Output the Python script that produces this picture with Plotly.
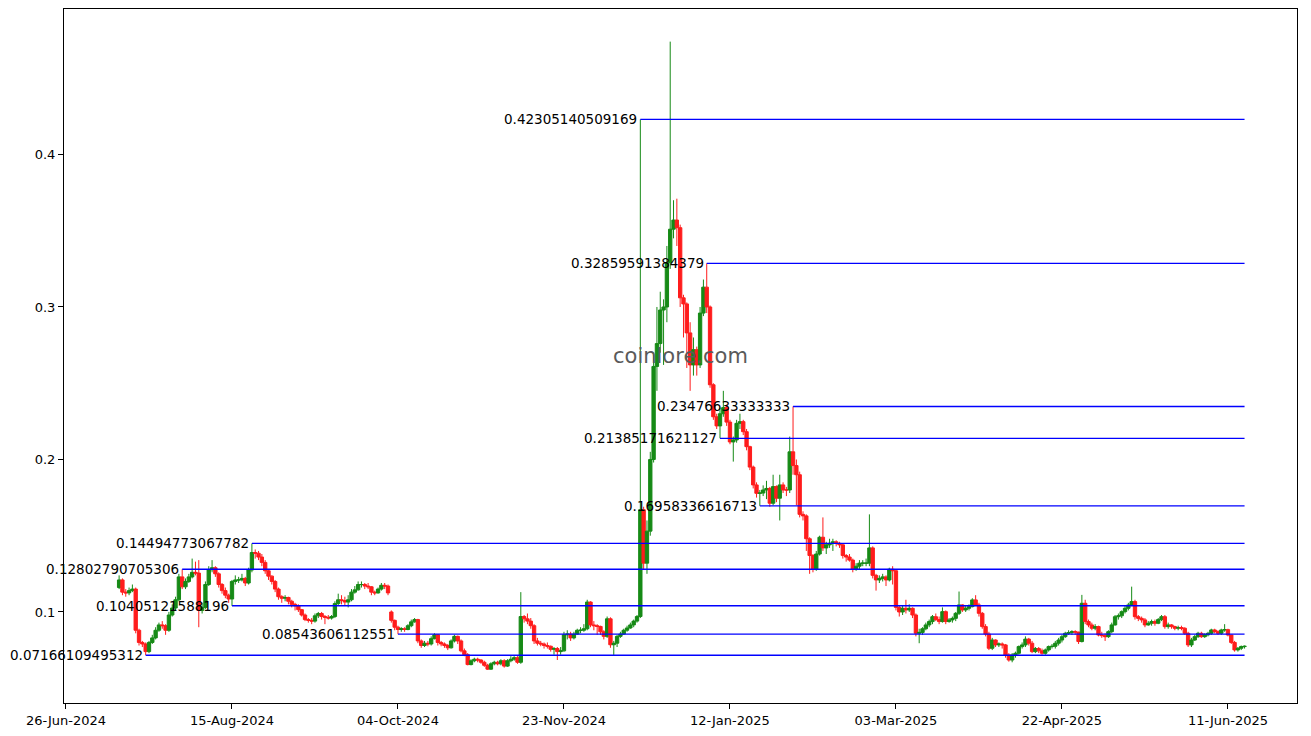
import pandas as pd
import plotly.graph_objects as go

# ---------------- data ----------------
start_date = "2024-07-12"
first_open = 0.116
gap_opens = {82: 0.100}

close = [
    0.121, 0.113, 0.1125, 0.114, 0.115, 0.088, 0.080, 0.079, 0.074, 0.080,
    0.083, 0.088, 0.0915, 0.091, 0.088, 0.098, 0.1026, 0.108, 0.123, 0.1165,
    0.120, 0.123, 0.126, 0.1255, 0.101, 0.103, 0.118, 0.1277, 0.129, 0.125,
    0.118, 0.114, 0.111, 0.1085, 0.120, 0.121, 0.121, 0.122, 0.119, 0.1275,
    0.139, 0.1385, 0.136, 0.1325, 0.127, 0.1235, 0.120, 0.115, 0.110, 0.109,
    0.1095, 0.107, 0.105, 0.104, 0.1015, 0.098, 0.095, 0.0945, 0.094, 0.0975,
    0.099, 0.097, 0.0965, 0.096, 0.097, 0.1055, 0.108, 0.1075, 0.1065, 0.108,
    0.113, 0.1145, 0.118, 0.118, 0.117, 0.1165, 0.113, 0.1125, 0.115, 0.1175,
    0.117, 0.1125, 0.0945, 0.090, 0.0885, 0.089, 0.0885, 0.091, 0.0935, 0.095,
    0.081, 0.078, 0.0795, 0.079, 0.0825, 0.085, 0.080, 0.079, 0.078, 0.0765,
    0.081, 0.084, 0.081, 0.0745, 0.072, 0.0655, 0.068, 0.069, 0.0685, 0.067,
    0.065, 0.0625, 0.066, 0.067, 0.066, 0.068, 0.0645, 0.068, 0.069, 0.070,
    0.067, 0.097, 0.0955, 0.094, 0.091, 0.081, 0.0795, 0.079, 0.078, 0.0775,
    0.0755, 0.076, 0.074, 0.0745, 0.085, 0.0855, 0.083, 0.0855, 0.088, 0.088,
    0.089, 0.1065, 0.0915, 0.091, 0.0905, 0.087, 0.084, 0.0955, 0.0785, 0.0795,
    0.084, 0.0855, 0.088, 0.0895, 0.0915, 0.094, 0.097, 0.167, 0.132, 0.153,
    0.200, 0.261, 0.276, 0.298, 0.300, 0.329, 0.351, 0.357, 0.352, 0.306,
    0.302, 0.283, 0.262, 0.272, 0.262, 0.296, 0.313, 0.300, 0.249, 0.228,
    0.222, 0.230, 0.234, 0.2245, 0.2115, 0.2128, 0.2237, 0.2248, 0.2182, 0.2084,
    0.195, 0.1833, 0.1778, 0.178, 0.180, 0.181, 0.1713, 0.1822, 0.1746, 0.1833,
    0.180, 0.180, 0.205, 0.196, 0.190, 0.164, 0.163, 0.148, 0.137, 0.128,
    0.138, 0.149, 0.142, 0.144, 0.145, 0.146, 0.145, 0.144, 0.137, 0.136,
    0.134, 0.128, 0.130, 0.132, 0.132, 0.132, 0.142, 0.124, 0.121, 0.122,
    0.123, 0.121, 0.128, 0.127, 0.103, 0.100, 0.1024, 0.1013, 0.1024, 0.098,
    0.086, 0.0866, 0.089, 0.0915, 0.0937, 0.0969, 0.095, 0.0937, 0.1002, 0.0937,
    0.0948, 0.0958, 0.0991, 0.1046, 0.1013, 0.1024, 0.1035, 0.1079, 0.1046, 0.0991,
    0.0904, 0.0855, 0.0762, 0.0816, 0.0784, 0.079, 0.0784, 0.0718, 0.0685, 0.0718,
    0.0729, 0.0773, 0.0784, 0.0822, 0.0795, 0.074, 0.076, 0.0745, 0.0729, 0.0751,
    0.0773, 0.0775, 0.0795, 0.0816, 0.0838, 0.086, 0.0865, 0.0871, 0.0868, 0.0806,
    0.1057, 0.0937, 0.0915, 0.0893, 0.0904, 0.0849, 0.0845, 0.0838, 0.0871, 0.0915,
    0.0969, 0.0975, 0.1002, 0.1024, 0.1046, 0.1068, 0.0969, 0.0958, 0.0948, 0.0915,
    0.0926, 0.0937, 0.0926, 0.095, 0.0969, 0.0904, 0.0915, 0.0904, 0.0893, 0.0898,
    0.0893, 0.086, 0.0784, 0.0816, 0.0838, 0.086, 0.0838, 0.085, 0.086, 0.0882,
    0.0871, 0.086, 0.0882, 0.0884, 0.0849, 0.080, 0.0751, 0.0762, 0.0773, 0.0775,
]

high = [
    0.124, 0.122, 0.115, 0.116, 0.118, 0.116, 0.089, 0.081, 0.080, 0.081,
    0.085, 0.090, 0.093, 0.094, 0.092, 0.100, 0.105, 0.110, 0.125, 0.128,
    0.122, 0.125, 0.135, 0.133, 0.134, 0.106, 0.120, 0.130, 0.134, 0.130,
    0.126, 0.119, 0.116, 0.112, 0.121, 0.124, 0.123, 0.125, 0.123, 0.129,
    0.1449, 0.141, 0.140, 0.138, 0.134, 0.128, 0.124, 0.121, 0.116, 0.111,
    0.111, 0.110, 0.108, 0.106, 0.105, 0.102, 0.099, 0.096, 0.096, 0.099,
    0.100, 0.100, 0.098, 0.098, 0.098, 0.107, 0.112, 0.111, 0.110, 0.111,
    0.115, 0.117, 0.120, 0.120, 0.119, 0.119, 0.117, 0.114, 0.116, 0.119,
    0.119, 0.118, 0.101, 0.095, 0.091, 0.090, 0.090, 0.092, 0.095, 0.096,
    0.0955, 0.082, 0.081, 0.081, 0.084, 0.086, 0.0855, 0.081, 0.080, 0.079,
    0.082, 0.085, 0.0845, 0.082, 0.076, 0.073, 0.069, 0.070, 0.070, 0.069,
    0.068, 0.066, 0.067, 0.068, 0.068, 0.069, 0.069, 0.069, 0.071, 0.071,
    0.071, 0.113, 0.098, 0.099, 0.096, 0.092, 0.083, 0.081, 0.080, 0.080,
    0.078, 0.077, 0.077, 0.077, 0.087, 0.088, 0.087, 0.087, 0.089, 0.090,
    0.092, 0.108, 0.107, 0.094, 0.092, 0.091, 0.088, 0.097, 0.0965, 0.081,
    0.085, 0.087, 0.089, 0.091, 0.093, 0.095, 0.098, 0.423, 0.169, 0.160,
    0.205, 0.270, 0.300, 0.310, 0.305, 0.340, 0.474, 0.370, 0.371, 0.354,
    0.308, 0.303, 0.290, 0.280, 0.274, 0.300, 0.318, 0.3286, 0.301, 0.250,
    0.230, 0.234, 0.245, 0.236, 0.226, 0.215, 0.226, 0.230, 0.226, 0.220,
    0.209, 0.196, 0.185, 0.180, 0.183, 0.186, 0.182, 0.190, 0.183, 0.190,
    0.185, 0.182, 0.215, 0.2348, 0.200, 0.192, 0.166, 0.164, 0.149, 0.138,
    0.140, 0.150, 0.162, 0.146, 0.148, 0.148, 0.147, 0.146, 0.145, 0.138,
    0.138, 0.135, 0.132, 0.134, 0.134, 0.135, 0.164, 0.143, 0.125, 0.124,
    0.125, 0.124, 0.129, 0.130, 0.128, 0.104, 0.104, 0.108, 0.105, 0.103,
    0.099, 0.089, 0.090, 0.093, 0.095, 0.098, 0.099, 0.097, 0.103, 0.101,
    0.096, 0.097, 0.100, 0.1134, 0.105, 0.104, 0.105, 0.109, 0.111, 0.106,
    0.100, 0.092, 0.087, 0.083, 0.082, 0.080, 0.080, 0.079, 0.073, 0.073,
    0.074, 0.078, 0.080, 0.084, 0.083, 0.081, 0.077, 0.077, 0.076, 0.076,
    0.078, 0.079, 0.081, 0.083, 0.085, 0.087, 0.088, 0.088, 0.088, 0.087,
    0.1112, 0.108, 0.095, 0.093, 0.092, 0.091, 0.087, 0.086, 0.088, 0.093,
    0.098, 0.099, 0.101, 0.104, 0.106, 0.1166, 0.108, 0.098, 0.097, 0.096,
    0.094, 0.095, 0.095, 0.096, 0.098, 0.098, 0.093, 0.092, 0.091, 0.091,
    0.091, 0.090, 0.087, 0.083, 0.085, 0.087, 0.087, 0.086, 0.087, 0.089,
    0.089, 0.088, 0.089, 0.092, 0.089, 0.085, 0.081, 0.077, 0.078, 0.078,
]

low = [
    0.115, 0.111, 0.110, 0.111, 0.113, 0.086, 0.078, 0.077, 0.0717, 0.073,
    0.079, 0.082, 0.087, 0.089, 0.085, 0.087, 0.097, 0.101, 0.107, 0.115,
    0.115, 0.119, 0.122, 0.124, 0.090, 0.099, 0.102, 0.117, 0.126, 0.123,
    0.116, 0.112, 0.109, 0.106, 0.104, 0.118, 0.119, 0.120, 0.117, 0.118,
    0.126, 0.135, 0.134, 0.130, 0.125, 0.121, 0.118, 0.113, 0.108, 0.106,
    0.107, 0.105, 0.103, 0.101, 0.100, 0.097, 0.094, 0.093, 0.092, 0.093,
    0.096, 0.095, 0.092, 0.095, 0.095, 0.096, 0.104, 0.105, 0.104, 0.103,
    0.107, 0.112, 0.114, 0.116, 0.115, 0.115, 0.111, 0.111, 0.112, 0.114,
    0.115, 0.111, 0.093, 0.088, 0.0854, 0.087, 0.087, 0.088, 0.090, 0.093,
    0.0795, 0.0765, 0.077, 0.0775, 0.078, 0.082, 0.078, 0.0775, 0.0765, 0.075,
    0.076, 0.080, 0.079, 0.0735, 0.071, 0.065, 0.065, 0.067, 0.067, 0.066,
    0.064, 0.062, 0.062, 0.065, 0.065, 0.065, 0.0635, 0.064, 0.067, 0.068,
    0.066, 0.066, 0.093, 0.092, 0.089, 0.079, 0.078, 0.0775, 0.076, 0.076,
    0.074, 0.072, 0.0685, 0.072, 0.074, 0.082, 0.081, 0.082, 0.085, 0.086,
    0.087, 0.088, 0.090, 0.088, 0.085, 0.085, 0.082, 0.083, 0.0765, 0.0718,
    0.077, 0.083, 0.085, 0.087, 0.089, 0.090, 0.093, 0.096, 0.128, 0.125,
    0.150, 0.198, 0.245, 0.270, 0.262, 0.290, 0.325, 0.345, 0.340, 0.300,
    0.280, 0.260, 0.245, 0.255, 0.255, 0.260, 0.294, 0.296, 0.247, 0.226,
    0.220, 0.2139, 0.228, 0.222, 0.210, 0.1986, 0.211, 0.220, 0.216, 0.206,
    0.193, 0.181, 0.175, 0.1696, 0.176, 0.174, 0.169, 0.170, 0.172, 0.160,
    0.178, 0.176, 0.178, 0.190, 0.170, 0.162, 0.160, 0.140, 0.125, 0.126,
    0.127, 0.137, 0.140, 0.138, 0.142, 0.140, 0.143, 0.142, 0.135, 0.133,
    0.133, 0.126, 0.127, 0.128, 0.130, 0.130, 0.130, 0.122, 0.114, 0.119,
    0.120, 0.117, 0.120, 0.118, 0.101, 0.097, 0.098, 0.099, 0.100, 0.096,
    0.084, 0.0795, 0.085, 0.088, 0.090, 0.092, 0.094, 0.092, 0.093, 0.092,
    0.093, 0.093, 0.094, 0.098, 0.100, 0.100, 0.101, 0.103, 0.104, 0.097,
    0.089, 0.084, 0.075, 0.075, 0.077, 0.077, 0.076, 0.070, 0.0674, 0.067,
    0.070, 0.072, 0.076, 0.077, 0.078, 0.073, 0.073, 0.073, 0.072, 0.072,
    0.074, 0.076, 0.076, 0.078, 0.080, 0.083, 0.085, 0.085, 0.085, 0.079,
    0.080, 0.092, 0.090, 0.088, 0.088, 0.084, 0.083, 0.081, 0.083, 0.086,
    0.091, 0.095, 0.096, 0.099, 0.101, 0.104, 0.095, 0.094, 0.093, 0.090,
    0.091, 0.091, 0.091, 0.092, 0.094, 0.089, 0.089, 0.089, 0.088, 0.088,
    0.088, 0.085, 0.077, 0.077, 0.081, 0.083, 0.083, 0.083, 0.084, 0.085,
    0.086, 0.085, 0.085, 0.087, 0.084, 0.079, 0.074, 0.074, 0.075, 0.076,
]

level_values = [0.42305140509169, 0.32859591384379, 0.23476633333333,
                0.21385171621127, 0.16958336616713, 0.14494773067782,
                0.12802790705306, 0.10405121588196, 0.08543606112551,
                0.07166109495312]
level_labels = ["0.42305140509169", "0.32859591384379", "0.23476633333333",
                "0.21385171621127", "0.16958336616713", "0.14494773067782",
                "0.12802790705306", "0.10405121588196", "0.08543606112551",
                "0.07166109495312"]
level_dates = ["2024-12-16", "2025-01-05", "2025-01-31", "2025-01-09",
               "2025-01-21", "2024-08-21", "2024-07-31", "2024-08-15",
               "2024-10-04", "2024-07-20"]

x_tick_dates = ["2024-06-26", "2024-08-15", "2024-10-04", "2024-11-23",
                "2025-01-12", "2025-03-03", "2025-04-22", "2025-06-11"]
x_tick_labels = ["26-Jun-2024", "15-Aug-2024", "04-Oct-2024", "23-Nov-2024",
                 "12-Jan-2025", "03-Mar-2025", "22-Apr-2025", "11-Jun-2025"]
y_tick_values = [0.1, 0.2, 0.3, 0.4]
y_tick_labels = ["0.1", "0.2", "0.3", "0.4"]

watermark = "coinlore.com"

# ---------------- build ----------------
dates = pd.date_range(start_date, periods=len(close), freq="D")
opens = [first_open] + close[:-1]
for k, v in gap_opens.items():
    opens[k] = v
highs = [max(h, o, c) for h, o, c in zip(high, opens, close)]
lows = [min(l, o, c) for l, o, c in zip(low, opens, close)]

GREEN = "#168a16"
RED = "#ff1c1c"
BLUE = "#0000ff"
FONT = "DejaVu Sans"

fig = go.Figure()
fig.add_trace(go.Candlestick(
    x=dates, open=opens, high=highs, low=lows, close=close,
    increasing=dict(line=dict(color=GREEN, width=1), fillcolor=GREEN),
    decreasing=dict(line=dict(color=RED, width=1), fillcolor=RED),
    whiskerwidth=0, showlegend=False, hoverinfo="skip",
))

end_date = dates[-1]
for val, d in zip(level_values, level_dates):
    fig.add_trace(go.Scatter(
        x=[pd.Timestamp(d), end_date], y=[val, val], mode="lines",
        line=dict(color=BLUE, width=1.4), showlegend=False, hoverinfo="skip",
    ))

annotations = []
for val, d, lab in zip(level_values, level_dates, level_labels):
    annotations.append(dict(
        x=pd.Timestamp(d), y=val, xref="x", yref="y", text=lab,
        showarrow=False, xanchor="right", yanchor="middle", xshift=-1,
        font=dict(family=FONT, size=13.5, color="black"),
    ))
annotations.append(dict(
    x=0.5, y=0.5, xref="paper", yref="paper", text=watermark,
    showarrow=False, xanchor="center", yanchor="middle",
    font=dict(family=FONT, size=21, color="#5a5a5a"),
))

# the page adds an 8px body margin, so the figure is sized to fit inside it
fig.update_layout(
    width=1303, height=728,
    margin=dict(l=56, r=14, t=1, b=33),
    paper_bgcolor="white", plot_bgcolor="white",
    font=dict(family=FONT, size=13, color="black"),
    annotations=annotations,
    showlegend=False,
    boxgap=0.0, boxgroupgap=0.0,
    xaxis=dict(
        type="date",
        range=["2024-06-25 09:36", "2025-07-01 19:12"],
        rangeslider=dict(visible=False),
        tickvals=x_tick_dates, ticktext=x_tick_labels,
        ticks="outside", ticklen=5, tickwidth=1, tickcolor="black",
        showline=True, linecolor="black", linewidth=1, mirror=True,
        showgrid=False, zeroline=False,
        tickfont=dict(family=FONT, size=13, color="black"),
    ),
    yaxis=dict(
        range=[0.0403, 0.4954],
        tickvals=y_tick_values, ticktext=y_tick_labels,
        ticks="outside", ticklen=5, tickwidth=1, tickcolor="black",
        showline=True, linecolor="black", linewidth=1, mirror=True,
        showgrid=False, zeroline=False,
        tickfont=dict(family=FONT, size=13, color="black"),
    ),
)

fig.write_html("out.html")
